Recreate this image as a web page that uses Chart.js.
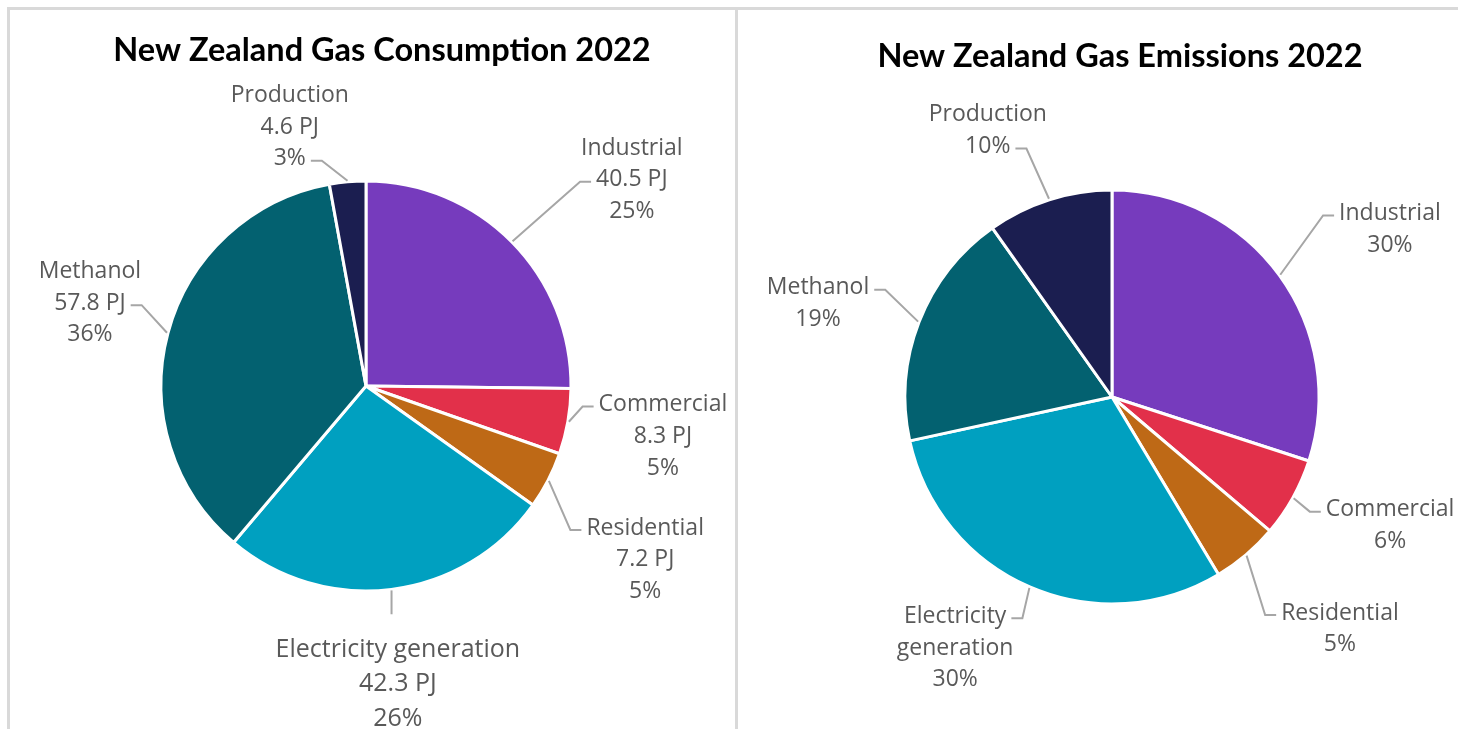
<!DOCTYPE html>
<html>
<head>
<meta charset="utf-8">
<title>New Zealand Gas 2022</title>
<script src="https://cdn.jsdelivr.net/npm/chart.js@4.4.1/dist/chart.umd.min.js"></script>
<style>
  html, body { margin: 0; padding: 0; background: #fff; }
  body { width: 1458px; height: 729px; position: relative; overflow: hidden; }
  .frame { position: absolute; left: 7px; top: 7px; right: 0; bottom: 0;
           border-top: 3px solid #d9d9d9; border-left: 3px solid #d9d9d9; }
  .divider { position: absolute; left: 735px; top: 7px; width: 3px; bottom: 0; background: #d9d9d9; }
  .box { position: absolute; top: 10px; }
  #consBox { left: 10px; }
  #emisBox { left: 738px; }
</style>
</head>
<body>
<div class="frame"></div>
<div class="divider"></div>
<div class="box" id="consBox"><canvas id="consChart" width="725" height="719"></canvas></div>
<div class="box" id="emisBox"><canvas id="emisChart" width="720" height="719"></canvas></div>
<script>
const categories = ['Industrial', 'Commercial', 'Residential', 'Electricity generation', 'Methanol', 'Production'];
const consumptionPJ = [40.5, 8.3, 7.24, 42.3, 57.8, 4.6];
const emissionsShare = [30, 6.2, 5.2, 30.2, 18.6, 9.8];

const sliceColors = ['#763bbd', '#e2304a', '#be6916', '#00a0c0', '#036170', '#1b1e50'];

// label placement: angle (deg clockwise from 12 o'clock), distance in radii,
// line the leader joins (-1 = top), font px
const consLabelPlaces = [[52.2, 1.641, 1, 23], [99.6, 1.469, 0, 23], [121.9, 1.604, 0, 23],
                         [173.9, 1.462, -1, 25], [286.7, 1.406, 1, 23], [343.6, 1.317, 2, 23]];
const emisLabelPlaces = [[58.9, 1.568, 0, 23], [114.8, 1.48, 0, 23], [135.5, 1.571, 0, 23],
                         [212.0, 1.43, 0, 23], [287.6, 1.49, 0, 23], [335.0, 1.42, 1, 23]];

function sliceLabelPlugin(opts) {
  return {
    id: 'sliceLabels',
    afterDatasetsDraw(chart) {
      const ctx = chart.ctx;
      const meta = chart.getDatasetMeta(0);
      const values = chart.data.datasets[0].data;
      const total = values.reduce((a, b) => a + b, 0);
      ctx.save();
      ctx.textAlign = 'center';
      ctx.textBaseline = 'middle';

      ctx.font = 'bold 32.5px Lato';
      ctx.fillStyle = '#000';
      ctx.fillText(opts.title, opts.titleX, opts.titleY);

      meta.data.forEach((arc, i) => {
        const p = arc.getProps(['x', 'y', 'startAngle', 'endAngle', 'outerRadius'], true);
        const mid = (p.startAngle + p.endAngle) / 2;
        const ex = p.x + Math.cos(mid) * (p.outerRadius + 1);
        const ey = p.y + Math.sin(mid) * (p.outerRadius + 1);
        const [deg, dist, join, size] = opts.places[i];
        const a = deg * Math.PI / 180;
        const cx = p.x + Math.sin(a) * dist * p.outerRadius;
        const cy = p.y - Math.cos(a) * dist * p.outerRadius;
        const lines = opts.text(chart.data.labels[i], values[i], total);
        const lh = size * 1.38;
        const top = cy - (lines.length - 1) / 2 * lh;

        ctx.font = size + 'px "Open Sans"';
        ctx.fillStyle = '#595959';
        lines.forEach((t, k) => ctx.fillText(t, cx, top + k * lh));

        ctx.strokeStyle = '#a6a6a6';
        ctx.lineWidth = 2;
        ctx.beginPath();
        ctx.moveTo(ex, ey);
        if (join < 0) {
          ctx.lineTo(ex, top - lh / 2 - 18);
        } else {
          const ly = top + join * lh + 2;
          const w = ctx.measureText(lines[join]).width;
          const right = cx > ex;
          const tip = right ? cx - w / 2 - 5 : cx + w / 2 + 5;
          const elbow = right ? tip - 11 : tip + 11;
          ctx.lineTo(elbow, ly);
          ctx.lineTo(tip, ly);
        }
        ctx.stroke();
      });
      ctx.restore();
    }
  };
}

function pct(v, total) {
  return Math.round(v / total * 100) + '%';
}

new Chart(document.getElementById('consChart'), {
  type: 'pie',
  data: {
    labels: categories,
    datasets: [{
      data: consumptionPJ,
      backgroundColor: sliceColors,
      borderColor: '#ffffff',
      borderWidth: 3
    }]
  },
  options: {
    responsive: false,
    animation: false,
    events: [],
    layout: { padding: { left: 149.5, right: 162.5, top: 169.5, bottom: 136.5 } },
    plugins: { legend: { display: false }, tooltip: { enabled: false } }
  },
  plugins: [sliceLabelPlugin({
    title: 'New Zealand Gas Consumption 2022',
    titleX: 372, titleY: 41,
    places: consLabelPlaces,
    text: (name, v, total) => [name, v.toFixed(1) + ' PJ', pct(v, total)]
  })]
});

new Chart(document.getElementById('emisChart'), {
  type: 'pie',
  data: {
    labels: categories,
    datasets: [{
      data: emissionsShare,
      backgroundColor: sliceColors,
      borderColor: '#ffffff',
      borderWidth: 3
    }]
  },
  options: {
    responsive: false,
    animation: false,
    events: [],
    layout: { padding: { left: 165.5, right: 137.5, top: 178.5, bottom: 123.5 } },
    plugins: { legend: { display: false }, tooltip: { enabled: false } }
  },
  plugins: [sliceLabelPlugin({
    title: 'New Zealand Gas Emissions 2022',
    titleX: 382, titleY: 47,
    places: emisLabelPlaces,
    text: (name, v, total) => [...name.split(' '), pct(v, total)]
  })]
});
</script>
</body>
</html>
